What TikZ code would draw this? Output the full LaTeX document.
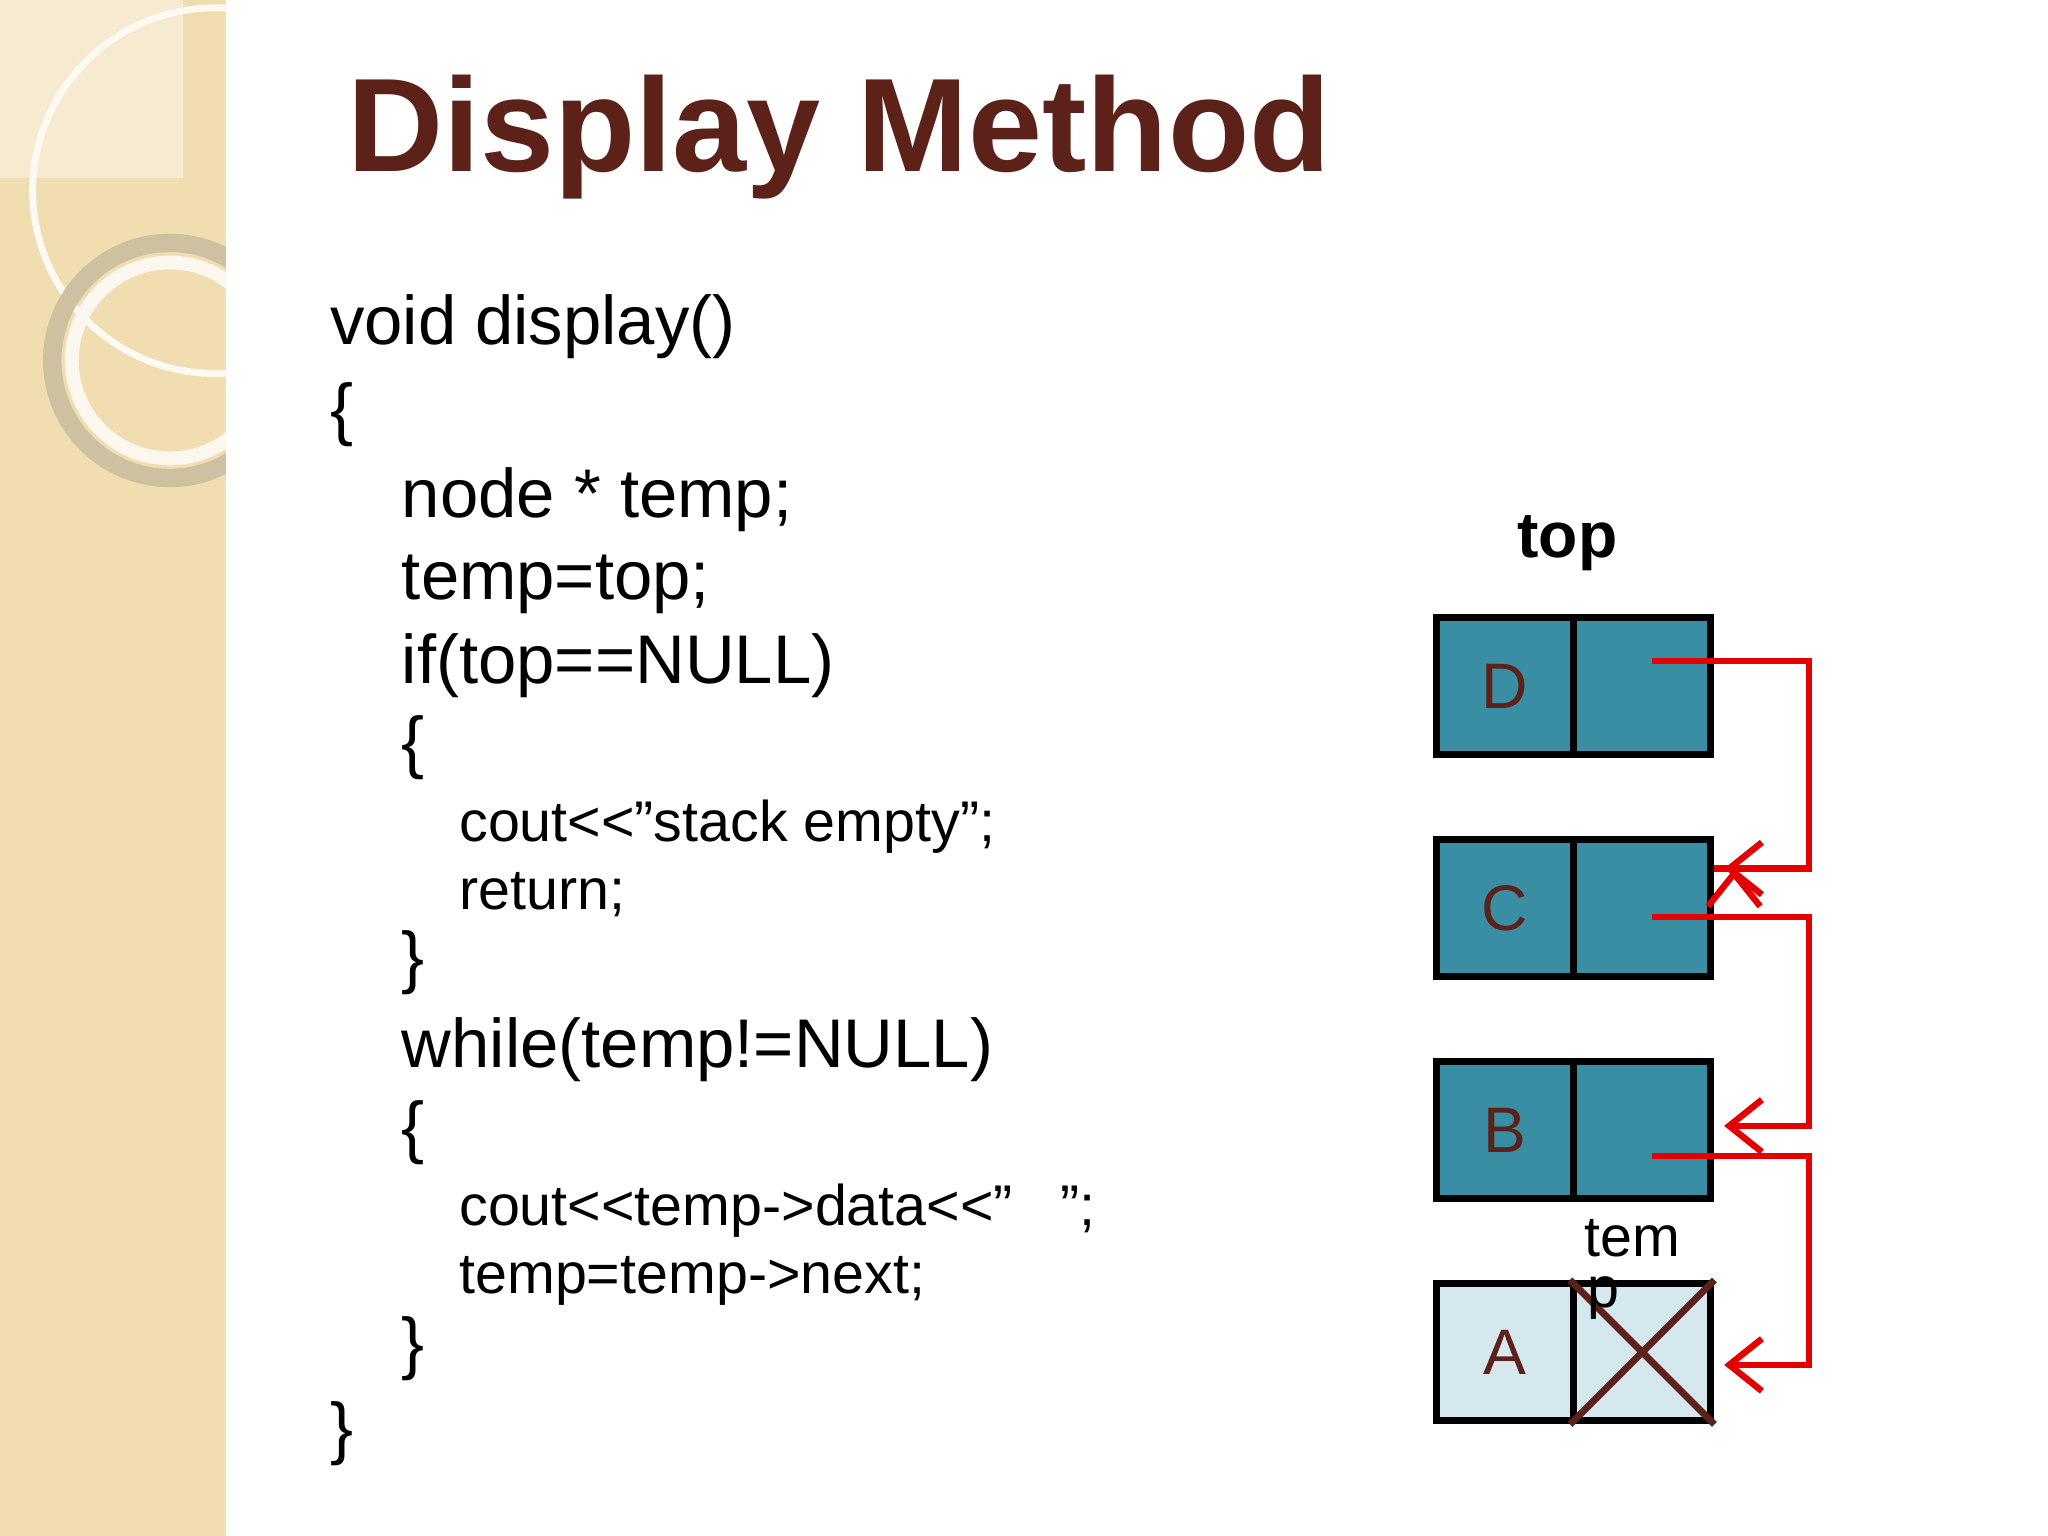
\documentclass[tikz,border=0pt]{standalone}
\usepackage{fontspec}
\setmainfont{Liberation Sans}
\usetikzlibrary{arrows.meta}
\definecolor{teal1}{HTML}{3A8EA3}
\definecolor{light1}{HTML}{D5E8EE}
\definecolor{titlec}{HTML}{5C2118}
\definecolor{beige}{HTML}{F0DDB0}
\tikzset{
 code/.style={anchor=base west,font=\fontsize{15}{15}\selectfont,inner sep=0},
 small/.style={anchor=base west,font=\fontsize{12.5}{12.5}\selectfont,inner sep=0},
 cell/.style={draw=black,line width=1.6pt,minimum width=1.05cm,minimum height=1.05cm,inner sep=0,font=\fontsize{14}{14}\selectfont,text=titlec},
 link/.style={red!90!black,line width=1.4pt,-{Straight Barb[length=2.5mm,width=4mm]}}
}
\begin{document}
\begin{tikzpicture}[x=1cm,y=1cm]
\useasboundingbox (0,0) rectangle (15.68,11.76);
\fill[white] (0,0) rectangle (15.68,11.76);
\fill[beige] (0,0) rectangle (1.73,11.76);
\begin{scope}
\clip (0,0) rectangle (1.73,11.76);
\fill[beige!60!white] (0,10.4) rectangle (1.4,11.76);
\draw[white!85!beige,line width=1.5pt] (1.65,10.3) circle (1.4);
\draw[beige!70!gray,line width=4pt] (1.3,9.0) circle (0.9);
\draw[white!80!beige,line width=3pt] (1.3,9.0) circle (0.75);
\end{scope}
\node[anchor=base west,font=\fontsize{29}{29}\selectfont\bfseries,text=titlec,inner sep=0] (title) at (2.65,10.45) {Display Method};
\node[code] (l1) at (2.52,9.12) {void display()};
\node[code] (l2) at (2.52,8.45) {\{};
\node[code] (l3) at (3.07,7.8) {node * temp;};
\node[code] (l4) at (3.07,7.17) {temp=top;};
\node[code] (l5) at (3.07,6.53) {if(top==NULL)};
\node[code] (l6) at (3.07,5.9) {\{};
\node[small] (l7) at (3.51,5.32) {cout<{}<"stack empty";};
\node[small] (l8) at (3.51,4.8) {return;};
\node[code] (l9) at (3.07,4.25) {\}};
\node[code] (l10) at (3.07,3.59) {while(temp!=NULL)};
\node[code] (l11) at (3.07,2.95) {\{};
\node[small] (l12) at (3.51,2.38) {cout<{}<temp->data<{}<"\ \ \ ";};
\node[small] (l13) at (3.51,1.86) {temp=temp->next;};
\node[code] (l14) at (3.07,1.3) {\}};
\node[code] (l15) at (2.52,0.65) {\}};
\node[font=\fontsize{14}{14}\selectfont\bfseries] (top) at (12.0,7.6) {top};
% boxes
\node[cell,fill=teal1,anchor=north west] (D1) at (10.97,7.06) {D};
\node[cell,fill=teal1,anchor=north west] (D2) at (12.02,7.06) {};
\node[cell,fill=teal1,anchor=north west] (C1) at (10.97,5.36) {C};
\node[cell,fill=teal1,anchor=north west] (C2) at (12.02,5.36) {};
\node[cell,fill=teal1,anchor=north west] (B1) at (10.97,3.66) {B};
\node[cell,fill=teal1,anchor=north west] (B2) at (12.02,3.66) {};
\node[cell,fill=light1,anchor=north west] (A1) at (10.97,1.96) {A};
\node[cell,fill=light1,anchor=north west] (A2) at (12.02,1.96) {};
\draw[titlec,line width=1.5pt] (A2.north west)--(A2.south east) (A2.north east)--(A2.south west);
\node[font=\fontsize{12.5}{12.5}\selectfont] (tem) at (12.5,2.28) {tem};
\node[font=\fontsize{12.5}{12.5}\selectfont] (p) at (12.28,1.82) {p};
\coordinate (d) at (12.65,6.70);
\coordinate (c) at (12.65,4.74);
\coordinate (b) at (12.65,2.91);
\draw[link] (d) -| (13.85,5.11) -- (C2.east|-0,5.11) ++(0.15,0);
\draw[link] (d) -- (13.85,6.70) -- (13.85,5.11) -- (13.2,5.11);
\draw[link] (c) -- (13.85,4.74) -- (13.85,3.14) -- (13.2,3.14);
\draw[link] (b) -- (13.85,2.91) -- (13.85,1.31) -- (13.2,1.31);
\end{tikzpicture}
\end{document}
